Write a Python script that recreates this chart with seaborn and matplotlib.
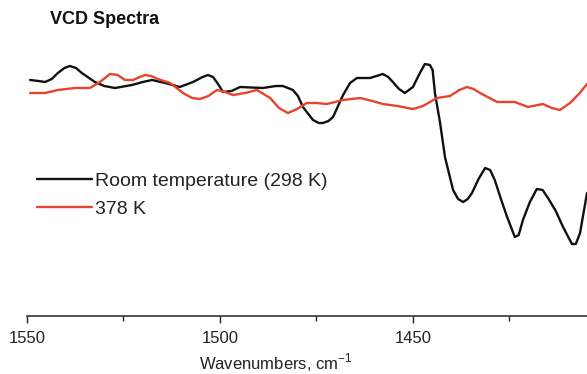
import matplotlib
matplotlib.use("Agg")
import matplotlib.pyplot as plt
import seaborn as sns
import pandas as pd
from matplotlib.ticker import MultipleLocator

# Wavenumbers (cm^-1) and VCD signal (arbitrary units)
wn_room = [1549.2, 1547.0, 1545.3, 1543.6, 1542.0, 1540.3, 1538.9, 1537.3, 1535.8,
           1532.4, 1530.0, 1527.2, 1522.8, 1520.0, 1517.6,
           1514.2, 1510.4, 1507.0, 1504.5, 1503.1, 1501.8, 1500.5, 1499.2, 1497.0,
           1494.8, 1488.9, 1485.5, 1483.7,
           1481.1, 1479.8, 1478.5, 1475.9, 1474.4, 1473.3, 1471.9, 1470.7, 1468.1,
           1466.3, 1464.5, 1461.1, 1457.8, 1456.4,
           1455.2, 1453.6, 1452.1, 1450.0, 1448.2, 1446.9, 1445.6, 1444.9, 1444.3,
           1443.0, 1441.7, 1439.6, 1438.3,
           1437.0, 1435.8, 1434.7, 1433.0, 1431.3, 1430.0, 1428.8, 1427.2, 1425.6,
           1423.6, 1422.6, 1421.5, 1419.7, 1417.9, 1416.4, 1415.0, 1413.0,
           1411.1, 1408.8, 1407.8, 1406.7, 1404.9]
vcd_room = [23.6, 23.5, 23.4, 23.7, 24.3, 24.8, 25.0, 24.8, 24.3,
            23.4, 23.0, 22.8, 23.1, 23.4, 23.6,
            23.3, 22.9, 23.4, 23.9, 24.1, 23.9, 23.2, 22.4, 22.5,
            22.9, 22.8, 23.0, 23.0,
            22.6, 22.0, 20.9, 19.6, 19.3, 19.3, 19.5, 19.9, 22.1,
            23.3, 23.8, 23.8, 24.2, 23.9,
            23.4, 22.7, 22.3, 22.9, 24.3, 25.2, 25.1, 24.6, 22.3,
            19.4, 15.9, 12.6, 11.7,
            11.4, 11.7, 12.3, 13.7, 14.8, 14.6, 13.6, 11.7, 9.9,
            7.9, 8.1, 9.6, 11.4, 12.7, 12.6, 11.8, 10.5,
            8.9, 7.2, 7.2, 8.3, 12.3]

wn_hot = [1549.2, 1545.3, 1542.0, 1537.6, 1533.7, 1531.1, 1528.5, 1526.5, 1524.6, 1522.5,
          1520.8, 1519.4, 1517.8, 1516.1, 1512.9, 1509.6, 1507.2, 1505.2, 1503.0, 1500.8,
          1498.7, 1496.6, 1493.5, 1490.4, 1487.0, 1484.7,
          1482.4, 1480.0, 1477.5, 1475.0, 1472.3, 1468.1, 1463.7, 1460.5, 1457.8, 1454.0,
          1450.0, 1447.4, 1443.8, 1440.4, 1438.0, 1436.0, 1434.3, 1432.6, 1428.2, 1423.6,
          1420.2, 1416.3, 1414.0, 1411.9, 1409.3, 1407.0, 1404.9]
vcd_hot = [22.3, 22.3, 22.6, 22.8, 22.8, 23.4, 24.2, 24.1, 23.6, 23.6,
           23.9, 24.1, 24.0, 23.7, 23.3, 22.3, 21.8, 21.7, 22.0, 22.6,
           22.4, 22.1, 22.3, 22.6, 21.8, 20.8,
           20.3, 20.7, 21.3, 21.3, 21.2, 21.6, 21.8, 21.5, 21.2, 21.0,
           20.7, 21.0, 21.8, 22.0, 22.6, 22.9, 22.7, 22.3, 21.4, 21.4,
           20.9, 21.2, 20.8, 20.6, 21.3, 22.2, 23.2]

series_labels = ["Room temperature (298 K)", "378 K"]
x_ticks = [1550, 1500, 1450]
title = "VCD Spectra"
x_label = "Wavenumbers, cm$^{\\mathregular{-1}}$"

sns.set_theme(style="white")
plt.rcParams["font.family"] = ["Liberation Sans", "DejaVu Sans"]

fig = plt.figure(figsize=(5.87, 3.74), dpi=100)
ax = fig.add_axes([27 / 587, 58 / 374, 560 / 587, 276 / 374])

df_room = pd.DataFrame({"wn": wn_room, "vcd": vcd_room})
df_hot = pd.DataFrame({"wn": wn_hot, "vcd": vcd_hot})

sns.lineplot(data=df_room, x="wn", y="vcd", ax=ax, color="#111111", lw=1.7,
             label=series_labels[0])
sns.lineplot(data=df_hot, x="wn", y="vcd", ax=ax, color="#e8432d", lw=1.7,
             label=series_labels[1])
for ln in ax.lines:
    ln.set_solid_joinstyle("round")

ax.set_xlim(1550, 1404.9)
ax.set_ylim(0, 27.6)
ax.set_xticks(x_ticks)
ax.set_xticklabels([str(t) for t in x_ticks], fontsize=12, color="#222222")
ax.xaxis.set_minor_locator(MultipleLocator(25))
ax.tick_params(axis="x", which="major", direction="out", length=5, width=1.0,
               color="#222222", bottom=True, pad=6)
ax.tick_params(axis="x", which="minor", direction="out", length=3.5, width=1.0,
               color="#222222", bottom=True)
ax.set_yticks([])
ax.set_ylabel("")
for s in ["left", "right", "top"]:
    ax.spines[s].set_visible(False)
ax.spines["bottom"].set_color("#222222")
ax.spines["bottom"].set_linewidth(1.1)

ax.set_xlabel(x_label, fontsize=12, color="#222222", va="center")
ax.xaxis.set_label_coords((276 - 27) / 560, -(363 - 316) / 276)

fig.text(50 / 587, 1 - 20 / 374, title, fontsize=13, fontweight="bold",
         ha="left", va="center", color="#111111")

leg = ax.legend(loc="upper left", bbox_to_anchor=((37 - 27) / 560, 1 - (172 - 40) / 276),
                frameon=False, fontsize=14, handlelength=2.85, handletextpad=0.15,
                labelspacing=0.55, borderaxespad=0, borderpad=0.0)
for t in leg.get_texts():
    t.set_color("#222222")

fig.savefig("out.png", dpi=100)
